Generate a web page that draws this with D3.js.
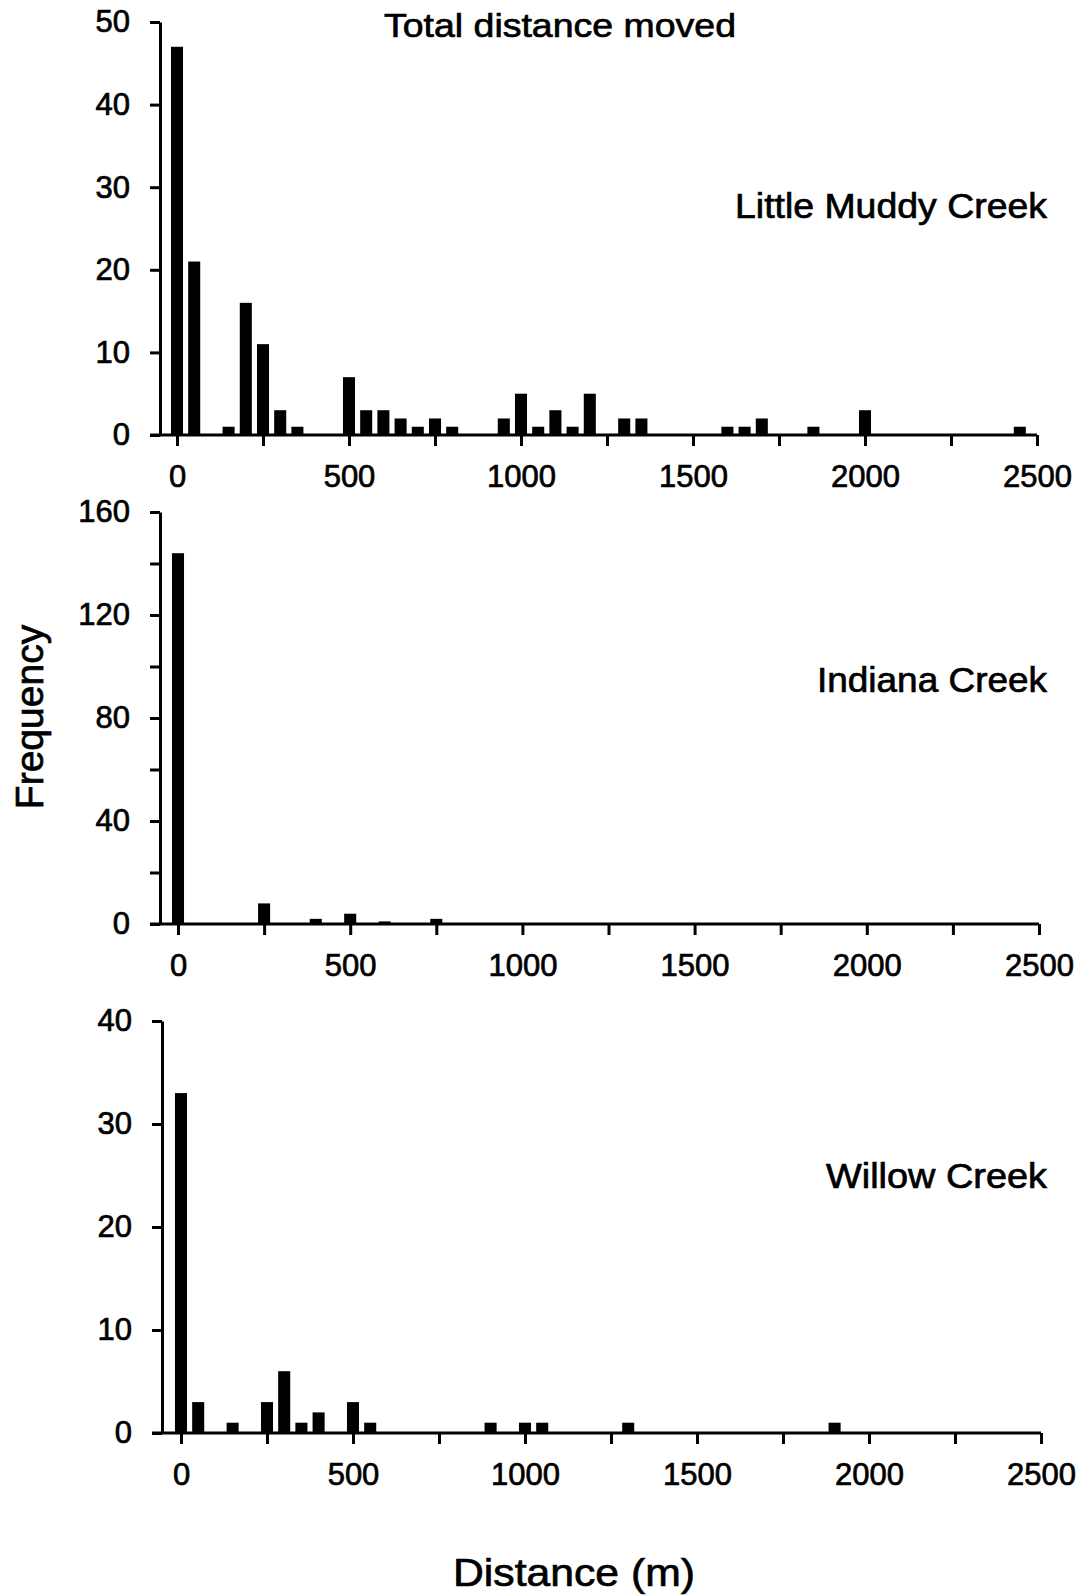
<!DOCTYPE html>
<html>
<head>
<meta charset="utf-8">
<script src="https://cdn.jsdelivr.net/npm/d3@7"></script>
<style>
  html, body { margin: 0; padding: 0; background: #fff; }
  svg { display: block; }
  text { font-family: "Liberation Sans", Arial, sans-serif; fill: #000; stroke: #000; stroke-width: 0.7px; }
</style>
</head>
<body>
<svg id="chart" width="1083" height="1595"></svg>
<script>
// Distance bins (m) and frequencies for each creek
const littleMuddyDistance = [0, 50, 150, 200, 250, 300, 350, 500, 550, 600, 650, 700, 750, 800, 950, 1000, 1050, 1100, 1150, 1200, 1300, 1350, 1600, 1650, 1700, 1850, 2000, 2450];
const littleMuddyFrequency = [47, 21, 1, 16, 11, 3, 1, 7, 3, 3, 2, 1, 2, 1, 2, 5, 1, 3, 1, 5, 2, 2, 1, 1, 2, 1, 3, 1];

const indianaDistance = [0, 250, 400, 500, 600, 750];
const indianaFrequency = [144, 8, 2, 4, 1, 2];

const willowDistance = [0, 50, 150, 250, 300, 350, 400, 500, 550, 900, 1000, 1050, 1300, 1900];
const willowFrequency = [33, 3, 1, 3, 6, 1, 2, 3, 1, 1, 1, 1, 1, 1];

const creekNames = ["Little Muddy Creek", "Indiana Creek", "Willow Creek"];
const xTickValues = d3.range(0, 2501, 250);
const xTickLabels = [0, 500, 1000, 1500, 2000, 2500];

const chartTitle = "Total distance moved";
const xAxisTitle = "Distance (m)";
const yAxisTitle = "Frequency";

// Panel layout
const panels = [
  { name: creekNames[0], dist: littleMuddyDistance, freq: littleMuddyFrequency,
    yMax: 50, yStep: 10, yLabelStep: 10,
    zeroY: 435, topY: 22, axisX: 160, lineLeft: 150, xZero: 177, xRight: 1037,
    labelY: 218, labelW: 312 },
  { name: creekNames[1], dist: indianaDistance, freq: indianaFrequency,
    yMax: 160, yStep: 20, yLabelStep: 40,
    zeroY: 924, topY: 512, axisX: 160, lineLeft: 150, xZero: 178, xRight: 1039,
    labelY: 692, labelW: 230 },
  { name: creekNames[2], dist: willowDistance, freq: willowFrequency,
    yMax: 40, yStep: 10, yLabelStep: 10,
    zeroY: 1433, topY: 1021, axisX: 162, lineLeft: 152, xZero: 181, xRight: 1041,
    labelY: 1188, labelW: 221 }
];

const svg = d3.select("#chart");
const strokeW = 3;
const tickFont = 31;

panels.forEach(p => {
  const g = svg.append("g");
  const x = d3.scaleLinear().domain([0, 2500]).range([p.xZero, p.xRight]);
  const y = d3.scaleLinear().domain([0, p.yMax]).range([p.zeroY, p.topY]);
  const barW = x(35) - x(0);

  // bars
  g.selectAll("rect.bar")
    .data(p.dist.map((d, i) => ({ d, f: p.freq[i] })))
    .join("rect")
    .attr("class", "bar")
    .attr("x", v => x(v.d) - barW / 2)
    .attr("width", barW)
    .attr("y", v => y(v.f))
    .attr("height", v => y(0) - y(v.f))
    .attr("fill", "#000");

  // x axis baseline, running slightly left of the y axis
  g.append("line")
    .attr("x1", p.lineLeft).attr("x2", x(2500))
    .attr("y1", p.zeroY).attr("y2", p.zeroY)
    .attr("stroke", "#000").attr("stroke-width", strokeW);

  const xAxis = d3.axisBottom(x)
    .tickValues(xTickValues)
    .tickSize(11)
    .tickPadding(19)
    .tickFormat(v => xTickLabels.includes(v) ? String(v) : "");
  const gx = g.append("g")
    .attr("transform", `translate(0,${p.zeroY})`)
    .call(xAxis);
  gx.select(".domain").remove();
  gx.selectAll(".tick line").attr("stroke", "#000").attr("stroke-width", strokeW);
  gx.selectAll(".tick text")
    .attr("font-size", tickFont)
    .attr("font-family", "'Liberation Sans', Arial, sans-serif")
    .attr("fill", "#000");

  // y axis
  const yAxis = d3.axisLeft(y)
    .tickValues(d3.range(0, p.yMax + 0.001, p.yStep))
    .tickSize(10)
    .tickSizeOuter(0)
    .tickPadding(20)
    .tickFormat(v => v % p.yLabelStep === 0 ? String(v) : "");
  const gy = g.append("g")
    .attr("transform", `translate(${p.axisX},0)`)
    .call(yAxis);
  gy.select(".domain").attr("stroke", "#000").attr("stroke-width", strokeW);
  gy.selectAll(".tick line").attr("stroke", "#000").attr("stroke-width", strokeW);
  gy.selectAll(".tick text")
    .attr("font-size", tickFont)
    .attr("font-family", "'Liberation Sans', Arial, sans-serif")
    .attr("fill", "#000");

  // creek name
  g.append("text")
    .attr("x", 1047)
    .attr("y", p.labelY)
    .attr("text-anchor", "end")
    .attr("font-size", 35)
    .attr("textLength", p.labelW)
    .attr("lengthAdjust", "spacingAndGlyphs")
    .text(p.name);
});

// titles
svg.append("text")
  .attr("x", 560).attr("y", 37)
  .attr("text-anchor", "middle")
  .attr("font-size", 34)
  .attr("textLength", 352)
  .attr("lengthAdjust", "spacingAndGlyphs")
  .text(chartTitle);

svg.append("text")
  .attr("x", 574).attr("y", 1586)
  .attr("text-anchor", "middle")
  .attr("font-size", 39)
  .attr("textLength", 242)
  .attr("lengthAdjust", "spacingAndGlyphs")
  .text(xAxisTitle);

svg.append("text")
  .attr("transform", "translate(43,717) rotate(-90)")
  .attr("text-anchor", "middle")
  .attr("font-size", 39)
  .text(yAxisTitle);
</script>
</body>
</html>
